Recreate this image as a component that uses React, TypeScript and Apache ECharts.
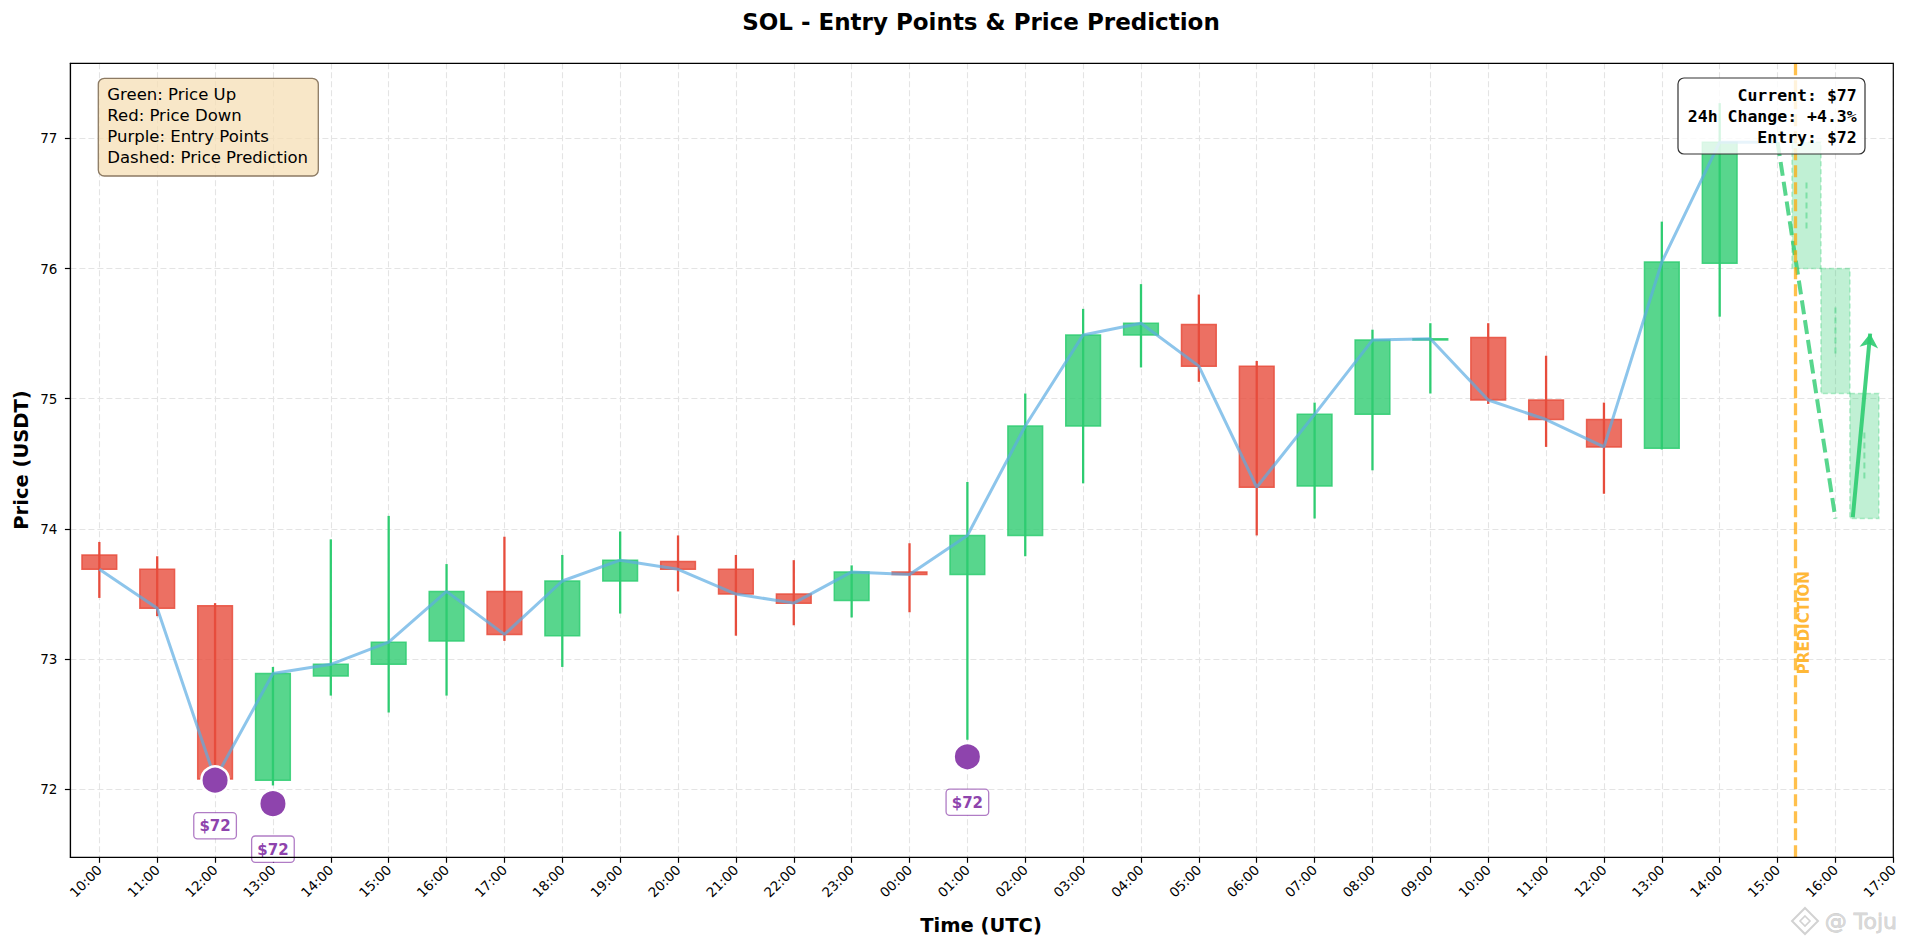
import React, { useEffect, useRef } from 'react';
import * as echarts from 'echarts';

// ---------- data ----------
const timeLabels = [
  '10:00', '11:00', '12:00', '13:00', '14:00', '15:00', '16:00', '17:00', '18:00', '19:00',
  '20:00', '21:00', '22:00', '23:00', '00:00', '01:00', '02:00', '03:00', '04:00', '05:00',
  '06:00', '07:00', '08:00', '09:00', '10:00', '11:00', '12:00', '13:00', '14:00', '15:00',
  '16:00', '17:00',
];
const yTicks = [72, 73, 74, 75, 76, 77];

const opens = [
  73.80, 73.69, 73.41, 72.07, 72.87, 72.96, 73.14, 73.52, 73.18, 73.60,
  73.75, 73.69, 73.50, 73.45, 73.67, 73.65, 73.95, 74.79, 75.49, 75.57,
  75.25, 74.33, 74.88, 75.45, 75.47, 74.99, 74.84, 74.62, 76.04,
];
const closes = [
  73.69, 73.39, 72.08, 72.89, 72.96, 73.13, 73.52, 73.19, 73.60, 73.76,
  73.69, 73.50, 73.43, 73.67, 73.65, 73.95, 74.79, 75.49, 75.58, 75.25,
  74.32, 74.88, 75.45, 75.46, 74.99, 74.84, 74.63, 76.05, 76.97,
];
const lows = [
  73.47, 73.33, 72.05, 72.03, 72.72, 72.59, 72.72, 73.14, 72.94, 73.35,
  73.52, 73.18, 73.26, 73.32, 73.36, 72.38, 73.79, 74.35, 75.24, 75.13,
  73.95, 74.08, 74.45, 75.04, 74.96, 74.63, 74.27, 74.61, 75.63,
];
const highs = [
  73.90, 73.79, 73.43, 72.94, 73.92, 74.10, 73.73, 73.94, 73.80, 73.98,
  73.95, 73.80, 73.76, 73.72, 73.89, 74.36, 75.04, 75.69, 75.88, 75.80,
  75.29, 74.97, 75.53, 75.58, 75.58, 75.33, 74.97, 76.36, 77.27,
];

// current price point that the close line reaches (15:00)
const nowPointX = 29;
const nowPointY = 76.97;

const entryX = [2, 3, 15];
const entryPrice = [72.07, 71.89, 72.25];

const predX = [29.5, 30.0, 30.5];
const predTop = [76.97, 76.0, 75.04];
const predBottom = [76.0, 75.04, 74.08];
const predMidHigh = [76.66, 75.70, 74.74];
const predMidLow = [76.28, 75.32, 74.37];

const forecastX = [29, 30];
const forecastY = [76.97, 74.08];

const trendX = [30.3, 30.6];
const trendY = [74.09, 75.5];

const predictionLineX = 29.31;
const predictionLabelX = 29.45;
const predictionLabelY = 73.28;

const currentPrice = 77;
const change24h = 4.3;
const entryLevel = 72;

const legendLines = ['Green: Price Up', 'Red: Price Down', 'Purple: Entry Points', 'Dashed: Price Prediction'];

// ---------- styles ----------
const FONT = '"DejaVu Sans", "Liberation Sans", sans-serif';
const MONO = '"DejaVu Sans Mono", "Liberation Mono", monospace';
const RED = '#E74C3C';
const GREEN = '#2ECC71';
const PURPLE = '#8E44AD';

const GRID = { left: 70.4, right: 11.7, top: 63.3, bottom: 89.7 };
const W = 1905;
const H = 947;

function rgba(hex: string, a: number) {
  const n = parseInt(hex.slice(1), 16);
  return `rgba(${(n >> 16) & 255},${(n >> 8) & 255},${n & 255},${a})`;
}

function buildOption() {
  const tickIdx = timeLabels.map((_, i) => i);
  const candleData = opens.map((o, i) => [i, o, closes[i], lows[i], highs[i]]);
  const closeLine = closes.map((c, i) => [i, c]).concat([[nowPointX, nowPointY]]);
  const predData = predX.map((x, i) => [x, predTop[i], predBottom[i], predMidHigh[i], predMidLow[i]]);
  const entries = entryX.map((x, i) => [x, entryPrice[i]]);

  return {
    animation: false,
    backgroundColor: '#ffffff',
    grid: {
      ...GRID,
      show: false,
    },
    xAxis: {
      type: 'value', min: -0.5, max: 31,
      axisLine: { show: true, onZero: false, lineStyle: { color: '#000', width: 1.2 } },
      axisTick: { show: true, customValues: tickIdx, length: 5.5, lineStyle: { color: '#000', width: 1.2 } },
      axisLabel: {
        customValues: tickIdx,
        formatter: (v: number) => timeLabels[Math.round(v)] ?? '',
        rotate: 45, margin: 10, fontSize: 13.5, color: '#000', fontFamily: FONT,
      },
      splitLine: { show: true, lineStyle: { color: '#e4e4e4', type: [6, 3], width: 1.1 } },
    },
    yAxis: {
      type: 'value', min: 71.478, max: 77.576,
      axisLine: { show: true, onZero: false, lineStyle: { color: '#000', width: 1.2 } },
      axisTick: { show: true, customValues: yTicks, length: 5.5, lineStyle: { color: '#000', width: 1.2 } },
      axisLabel: {
        customValues: yTicks,
        formatter: (v: number) => String(v),
        margin: 13, fontSize: 13.5, color: '#000', fontFamily: FONT,
      },
      splitLine: { show: true, lineStyle: { color: '#e4e4e4', type: [6, 3], width: 1.1 } },
    },
    series: [
      {
        type: 'custom',
        name: 'candles',
        data: candleData,
        encode: { x: 0, y: [1, 2, 3, 4] },
        z: 2,
        renderItem: (params: any, api: any) => {
          const x = api.value(0);
          const o = api.value(1);
          const c = api.value(2);
          const l = api.value(3);
          const h = api.value(4);
          const pO = api.coord([x, o]);
          const pC = api.coord([x, c]);
          const pL = api.coord([x, l]);
          const pH = api.coord([x, h]);
          const w = api.size([0.6, 0])[0];
          const col = c >= o ? GREEN : RED;
          const top = Math.min(pO[1], pC[1]);
          const ht = Math.max(Math.abs(pO[1] - pC[1]), 0.6);
          return {
            type: 'group',
            children: [
              {
                type: 'rect',
                shape: { x: pO[0] - w / 2, y: top, width: w, height: ht },
                style: { fill: rgba(col, 0.8), stroke: rgba(col, 0.85), lineWidth: 1.5 },
              },
              {
                type: 'line',
                shape: { x1: pH[0], y1: pH[1], x2: pL[0], y2: pL[1] },
                style: { stroke: col, lineWidth: 2.3 },
              },
            ],
          };
        },
      },
      {
        type: 'line',
        name: 'close',
        data: closeLine,
        showSymbol: false,
        symbol: 'none',
        z: 3,
        lineStyle: { color: 'rgba(93,173,226,0.7)', width: 3 },
      },
      {
        type: 'custom',
        name: 'prediction',
        data: predData,
        encode: { x: 0, y: [1, 2, 3, 4] },
        z: 3,
        renderItem: (params: any, api: any) => {
          const x = api.value(0);
          const pT = api.coord([x, api.value(1)]);
          const pB = api.coord([x, api.value(2)]);
          const pMH = api.coord([x, api.value(3)]);
          const pML = api.coord([x, api.value(4)]);
          const w = api.size([0.5, 0])[0];
          return {
            type: 'group',
            children: [
              {
                type: 'rect',
                shape: { x: pT[0] - w / 2, y: pT[1], width: w, height: pB[1] - pT[1] },
                style: { fill: 'rgba(46,204,113,0.3)', stroke: 'rgba(46,204,113,0.35)', lineWidth: 1.5, lineDash: [5, 3] },
              },
              {
                type: 'line',
                shape: { x1: pMH[0], y1: pMH[1], x2: pML[0], y2: pML[1] },
                style: { stroke: 'rgba(46,204,113,0.45)', lineWidth: 2, lineDash: [6, 4] },
              },
            ],
          };
        },
      },
      {
        type: 'line',
        name: 'forecast',
        data: forecastX.map((x, i) => [x, forecastY[i]]),
        showSymbol: false,
        symbol: 'none',
        z: 4,
        lineStyle: { color: 'rgba(46,204,113,0.8)', width: 4, type: [14, 6] },
        markLine: {
          silent: true,
          symbol: ['none', 'arrow'],
          symbolSize: 14,
          label: { show: false },
          lineStyle: { color: 'rgba(46,204,113,0.9)', width: 4, type: 'solid' },
          data: [[{ coord: [trendX[0], trendY[0]] }, { coord: [trendX[1], trendY[1]] }]],
        },
      },
      {
        type: 'scatter',
        name: 'predictionMarker',
        data: [[predictionLabelX, predictionLabelY]],
        symbolSize: 1,
        itemStyle: { color: 'rgba(0,0,0,0)' },
        z: 4,
        label: {
          show: true,
          formatter: 'PREDICTION',
          position: 'inside',
          rotate: 90,
          color: '#FFA500',
          fontWeight: 'bold',
          fontSize: 15,
          fontFamily: FONT,
        },
        markLine: {
          silent: true,
          symbol: 'none',
          label: { show: false },
          lineStyle: { color: 'rgba(255,165,0,0.7)', width: 3.3, type: [12, 5] },
          data: [{ xAxis: predictionLineX }],
        },
      },
      {
        type: 'scatter',
        name: 'entries',
        data: entries,
        symbol: 'circle',
        symbolSize: 27.5,
        z: 5,
        itemStyle: { color: PURPLE, borderColor: '#ffffff', borderWidth: 2.5, opacity: 1 },
        label: {
          show: true,
          position: 'bottom',
          distance: 18,
          formatter: (p: any) => '$' + Math.round(p.value[1]),
          color: PURPLE,
          fontWeight: 'bold',
          fontSize: 15,
          fontFamily: FONT,
          lineHeight: 16,
          backgroundColor: '#ffffff',
          borderColor: 'rgba(142,68,173,0.7)',
          borderWidth: 1.3,
          borderRadius: 3,
          padding: [5, 5, 4, 5],
        },
      },
    ],
    graphic: [
      {
        type: 'rect', z: 90, silent: true,
        shape: { x: GRID.left, y: GRID.top, width: W - GRID.left - GRID.right, height: H - GRID.top - GRID.bottom },
        style: { fill: 'none', stroke: '#000', lineWidth: 1.2 },
      },
      {
        type: 'text', z: 100, x: 981, y: 22,
        style: { text: 'SOL - Entry Points & Price Prediction', font: `bold 23px ${FONT}`, fill: '#000', align: 'center', verticalAlign: 'middle' },
      },
      {
        type: 'text', z: 100, x: 21, y: 460, rotation: Math.PI / 2,
        style: { text: 'Price (USDT)', font: `bold 19.5px ${FONT}`, fill: '#000', align: 'center', verticalAlign: 'middle' },
      },
      {
        type: 'text', z: 100, x: 981, y: 925,
        style: { text: 'Time (UTC)', font: `bold 19.5px ${FONT}`, fill: '#000', align: 'center', verticalAlign: 'middle' },
      },
      {
        type: 'group', z: 100,
        children: [
          {
            type: 'rect', z: 100,
            shape: { x: 98.3, y: 78.3, width: 220, height: 97.7, r: 6 },
            style: { fill: 'rgba(245,222,179,0.72)', stroke: '#8C7A63', lineWidth: 1.3 },
          },
          {
            type: 'text', z: 101, x: 107.3, y: 84.5,
            style: { text: legendLines.join('\n'), font: `16.5px ${FONT}`, fill: '#000', align: 'left', verticalAlign: 'top', lineHeight: 20.9 },
          },
        ],
      },
      {
        type: 'group', z: 100,
        children: [
          {
            type: 'rect', z: 100,
            shape: { x: 1678, y: 78, width: 187, height: 76, r: 6 },
            style: { fill: 'rgba(255,255,255,0.8)', stroke: '#333', lineWidth: 1.2 },
          },
          {
            type: 'text', z: 101, x: 1856.7, y: 84.5,
            style: {
              text: [`Current: $${currentPrice}`, `24h Change: +${change24h}%`, `Entry: $${entryLevel}`].join('\n'),
              font: `bold 16.5px ${MONO}`, fill: '#000', align: 'right', verticalAlign: 'top', lineHeight: 21,
            },
          },
        ],
      },
      {
        type: 'group', z: 100,
        children: [
          {
            type: 'polygon', z: 100,
            shape: { points: [[1805, 908], [1818, 921], [1805, 934], [1792, 921]] },
            style: { fill: 'none', stroke: '#d2d2d2', lineWidth: 2 },
          },
          {
            type: 'polygon', z: 100,
            shape: { points: [[1805, 916], [1810, 921], [1805, 926], [1800, 921]] },
            style: { fill: 'none', stroke: '#d2d2d2', lineWidth: 1.6 },
          },
          {
            type: 'text', z: 100, x: 1897, y: 921,
            style: { text: '@ Toju', font: `22px ${FONT}`, fill: '#d8d8d8', stroke: 'rgba(110,110,110,0.35)', lineWidth: 0.8, align: 'right', verticalAlign: 'middle' },
          },
        ],
      },
    ],
  };
}

export default function App() {
  const ref = useRef<HTMLDivElement>(null);
  useEffect(() => {
    if (!ref.current) return;
    const chart = echarts.init(ref.current, null, { renderer: 'svg' });
    chart.setOption(buildOption() as any);
    return () => chart.dispose();
  }, []);
  return (
    <div
      ref={ref}
      style={{ position: 'fixed', left: 0, top: 0, width: W, height: H, background: '#ffffff' }}
    />
  );
}
